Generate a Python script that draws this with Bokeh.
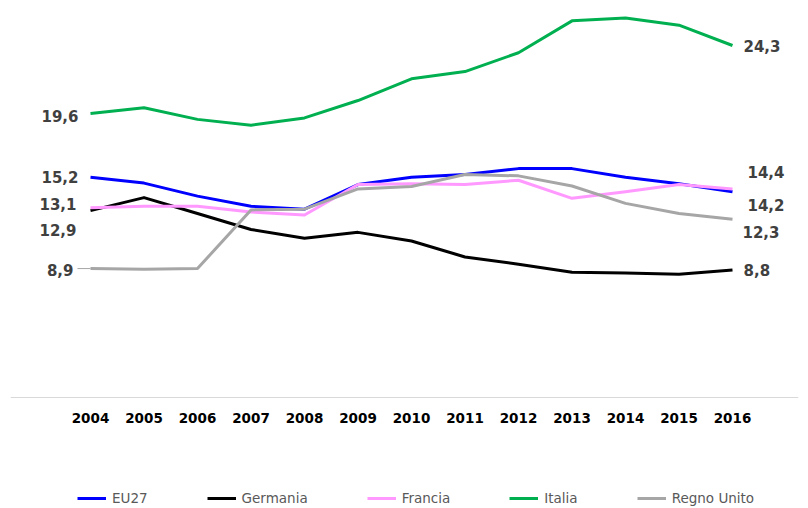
import math
from bokeh.plotting import figure
from bokeh.models import Range1d, Legend, LegendItem, ColumnDataSource, Span
from bokeh.core.properties import value
from bokeh.embed import file_html
from bokeh.resources import INLINE

years = list(range(2004, 2017))
year_labels = [str(y) for y in years]
eu27 = [15.2, 14.8, 13.9, 13.2, 13.0, 14.7, 15.2, 15.4, 15.8, 15.8, 15.2, 14.75, 14.2]
germania = [12.9, 13.8, 12.7, 11.6, 11.0, 11.4, 10.8, 9.7, 9.2, 8.65, 8.6, 8.5, 8.8]
francia = [13.1, 13.2, 13.2, 12.8, 12.6, 14.7, 14.75, 14.7, 15.0, 13.75, 14.2, 14.7, 14.4]
italia = [19.6, 20.0, 19.2, 18.8, 19.3, 20.5, 22.0, 22.5, 23.8, 26.0, 26.2, 25.7, 24.3]
regno_unito = [8.9, 8.85, 8.9, 12.95, 13.0, 14.4, 14.56, 15.4, 15.3, 14.6, 13.4, 12.7, 12.3]

series_names = ["EU27", "Germania", "Francia", "Italia", "Regno Unito"]
series_values = [eu27, germania, francia, italia, regno_unito]
series_colors = ["#0000FF", "#000000", "#FF99FF", "#00B050", "#A6A6A6"]

# label offsets in pixels (style only)
left_dx = {"EU27": -12, "Germania": -14, "Francia": -14, "Italia": -12, "Regno Unito": -17}
left_dy = {"EU27": 0, "Germania": 19, "Francia": -4, "Italia": 2, "Regno Unito": 1}
right_dx = {"EU27": 15, "Germania": 11, "Francia": 15, "Italia": 11, "Regno Unito": 10}
right_dy = {"EU27": 13, "Germania": 0, "Francia": -17, "Italia": 1, "Regno Unito": 13}


def fmt(v):
    return f"{v:.1f}".replace(".", ",")


PX_PER_YEAR = 53.5
PX_PER_UNIT = 14.486
FRAME_W = 788
FRAME_H = 508
ZERO_FROM_TOP = 397

x0 = years[0] - 80 / PX_PER_YEAR
y_top = ZERO_FROM_TOP / PX_PER_UNIT
y_bot = -(FRAME_H - ZERO_FROM_TOP) / PX_PER_UNIT
p = figure(
    width=808, height=508,
    output_backend="svg", toolbar_location=None,
    x_range=Range1d(x0, x0 + FRAME_W / PX_PER_YEAR),
    y_range=Range1d(y_bot, y_top),
    x_axis_location=None, y_axis_location=None,
    min_border_left=10, min_border_right=10, min_border_top=0, min_border_bottom=0,
)
p.outline_line_color = None
p.grid.visible = False
p.background_fill_color = "white"
p.border_fill_color = "white"

# category baseline
p.add_layout(Span(location=0, dimension="width", line_color="#D9D9D9", line_width=1))

renderers = []
for name, vals, col in zip(series_names, series_values, series_colors):
    r = p.line(years, vals, line_color=col, line_width=3, line_join="round")
    renderers.append(r)

# leader line for the first UK label
p.ray(x=[years[0]], y=[regno_unito[0]], length=13, length_units="screen",
      angle=math.pi, line_color="#A6A6A6", line_width=1)

left_src = ColumnDataSource(dict(
    x=[years[0]] * 5,
    y=[v[0] for v in series_values],
    text=[fmt(v[0]) for v in series_values],
    dx=[left_dx[n] for n in series_names],
    dy=[left_dy[n] for n in series_names],
))
right_src = ColumnDataSource(dict(
    x=[years[-1]] * 5,
    y=[v[-1] for v in series_values],
    text=[fmt(v[-1]) for v in series_values],
    dx=[right_dx[n] for n in series_names],
    dy=[right_dy[n] for n in series_names],
))
common = dict(text_font=value("DejaVu Sans"), text_font_style="bold",
              text_font_size="15px", text_color="#404040", text_baseline="middle")
p.text(x="x", y="y", text="text", x_offset="dx", y_offset="dy", source=left_src,
       text_align="right", **common)
p.text(x="x", y="y", text="text", x_offset="dx", y_offset="dy", source=right_src,
       text_align="left", **common)

# category labels (x axis)
p.text(x=years, y=[0] * len(years), text=year_labels, y_offset=20,
       text_font=value("DejaVu Sans"), text_font_style="bold", text_font_size="13.5px",
       text_color="#000000", text_align="center", text_baseline="middle")

legend = Legend(
    items=[LegendItem(label=n, renderers=[r]) for n, r in zip(series_names, renderers)],
    orientation="horizontal", location=(67, 0),
    spacing=59, glyph_width=29, label_standoff=6,
    label_text_font="DejaVu Sans", label_text_font_size="13.5px", label_text_color="#595959",
    border_line_alpha=0, background_fill_alpha=0, padding=0, margin=0,
)
p.add_layout(legend, "center")

open("out.html", "w").write(file_html(p, INLINE))
